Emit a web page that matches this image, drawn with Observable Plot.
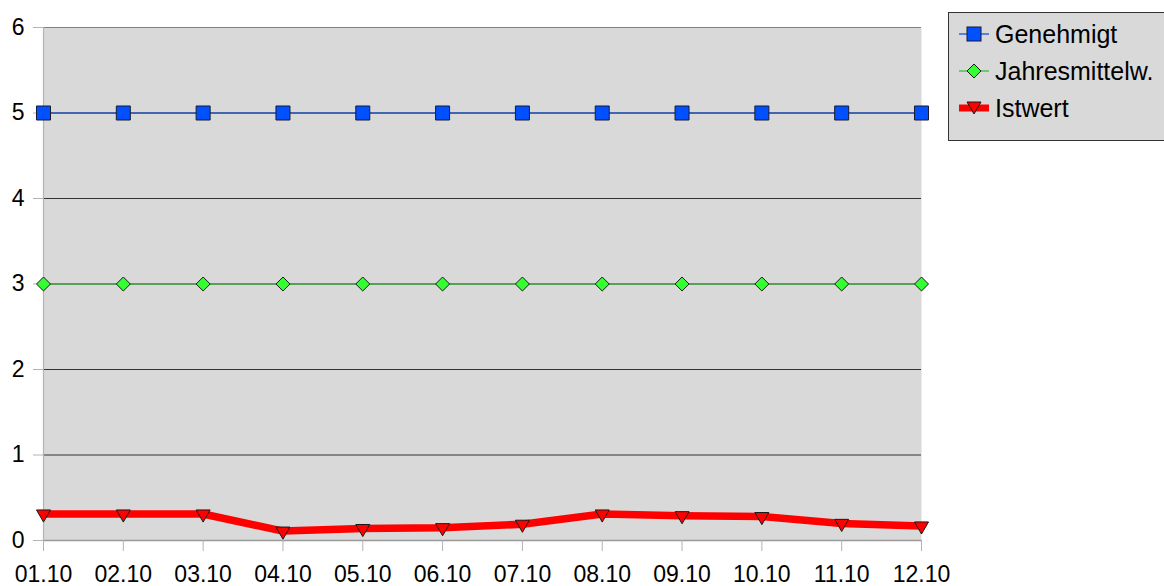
<!DOCTYPE html>
<html>
<head>
<meta charset="utf-8">
<script src="https://cdn.jsdelivr.net/npm/d3@7"></script>
<script src="https://cdn.jsdelivr.net/npm/@observablehq/plot@0.6"></script>
<style>
  body { margin: 0; background: #fff; font-family: "Liberation Sans", Arial, sans-serif; }
  #wrap { position: relative; width: 1164px; height: 586px; overflow: hidden; }
  #legend {
    position: absolute; left: 948px; top: 12px; width: 240px; height: 129px;
    background: #d9d9d9; border: 1px solid #333; box-sizing: border-box;
  }
  .item { position: absolute; left: 10px; height: 30px; display: flex; align-items: center; font-size: 25px; color: #000; }
  .item svg { margin-right: 6px; }
</style>
</head>
<body>
<div id="wrap">
  <div id="chart"></div>
  <div id="legend"></div>
</div>
<script>
const dates = ["01.10","02.10","03.10","04.10","05.10","06.10","07.10","08.10","09.10","10.10","11.10","12.10"];
const genehmigt = [5,5,5,5,5,5,5,5,5,5,5,5];
const jahresmittel = [3,3,3,3,3,3,3,3,3,3,3,3];
const istwert = [0.31,0.31,0.31,0.11,0.14,0.15,0.19,0.31,0.29,0.28,0.2,0.17];
const yTicks = [0,1,2,3,4,5,6];
const seriesNames = ["Genehmigt","Jahresmittelw.","Istwert"];

const rows = dates.map((d, i) => ({date: d, gen: genehmigt[i], jm: jahresmittel[i], ist: istwert[i]}));

const chart = Plot.plot({
  width: 1164,
  height: 586,
  marginLeft: 43,
  marginRight: 243,
  marginTop: 27,
  marginBottom: 46,
  style: {fontFamily: "Liberation Sans, Arial, sans-serif", background: "transparent"},
  x: {type: "point", domain: dates, padding: 0, round: false},
  y: {domain: [0, 6]},
  marks: [
    Plot.frame({fill: "#d9d9d9", stroke: null}),
    Plot.ruleY(yTicks.filter(t => t > 0 && t < 6), {stroke: "#333", strokeWidth: 1}),
    Plot.ruleY([6], {stroke: "#808080", strokeWidth: 1}),
    Plot.ruleY([0], {stroke: "#999", strokeWidth: 1.5}),
    Plot.ruleX([dates[0]], {stroke: "#b3b3b3", strokeWidth: 1.2}),
    Plot.axisY({ticks: yTicks, tickFormat: d3.format("d"), tickSize: 10, tickPadding: 9, fontSize: 23, stroke: "#b3b3b3", fill: "#000", label: null}),
    Plot.axisX({tickSize: 11, tickPadding: 14, fontSize: 23, stroke: "#b3b3b3", fill: "#000", label: null}),
    Plot.line(rows, {x: "date", y: "gen", stroke: "#0046e0", strokeWidth: 1.2}),
    Plot.line(rows, {x: "date", y: "jm", stroke: "#2db82d", strokeWidth: 1.2}),
    Plot.line(rows, {x: "date", y: "ist", stroke: "#ff0000", strokeWidth: 7.5}),
    Plot.dot(rows, {x: "date", y: "gen", symbol: "square", r: 7.9, fill: "#0050ff", stroke: "#1a1a33", strokeWidth: 1}),
    Plot.dot(rows, {x: "date", y: "jm", symbol: "diamond2", r: 6.3, fill: "#33ff33", stroke: "#1a1a1a", strokeWidth: 1}),
    Plot.dot(rows, {x: "date", y: "ist", symbol: "triangle", r: 5.2, rotate: 180, fill: "#ff0000", stroke: "#1a1a1a", strokeWidth: 1})
  ]
});
document.getElementById("chart").appendChild(chart);

const legendSymbols = [
  `<svg width="30" height="20"><line x1="0" y1="10" x2="30" y2="10" stroke="#0046e0" stroke-width="1.2"/><rect x="8" y="3" width="14" height="14" fill="#0050ff" stroke="#1a1a33"/></svg>`,
  `<svg width="30" height="20"><line x1="0" y1="10" x2="30" y2="10" stroke="#2db82d" stroke-width="1.2"/><polygon points="15,3 22,10 15,17 8,10" fill="#33ff33" stroke="#1a1a1a"/></svg>`,
  `<svg width="30" height="20"><line x1="0" y1="10" x2="30" y2="10" stroke="#ff0000" stroke-width="7"/><polygon points="8,4 22,4 15,16" fill="#ff0000" stroke="#1a1a1a"/></svg>`
];
const legend = document.getElementById("legend");
seriesNames.forEach((name, i) => {
  const div = document.createElement("div");
  div.className = "item";
  div.style.top = (6 + i * 37) + "px";
  div.innerHTML = legendSymbols[i] + `<span>${name}</span>`;
  legend.appendChild(div);
});
</script>
</body>
</html>
